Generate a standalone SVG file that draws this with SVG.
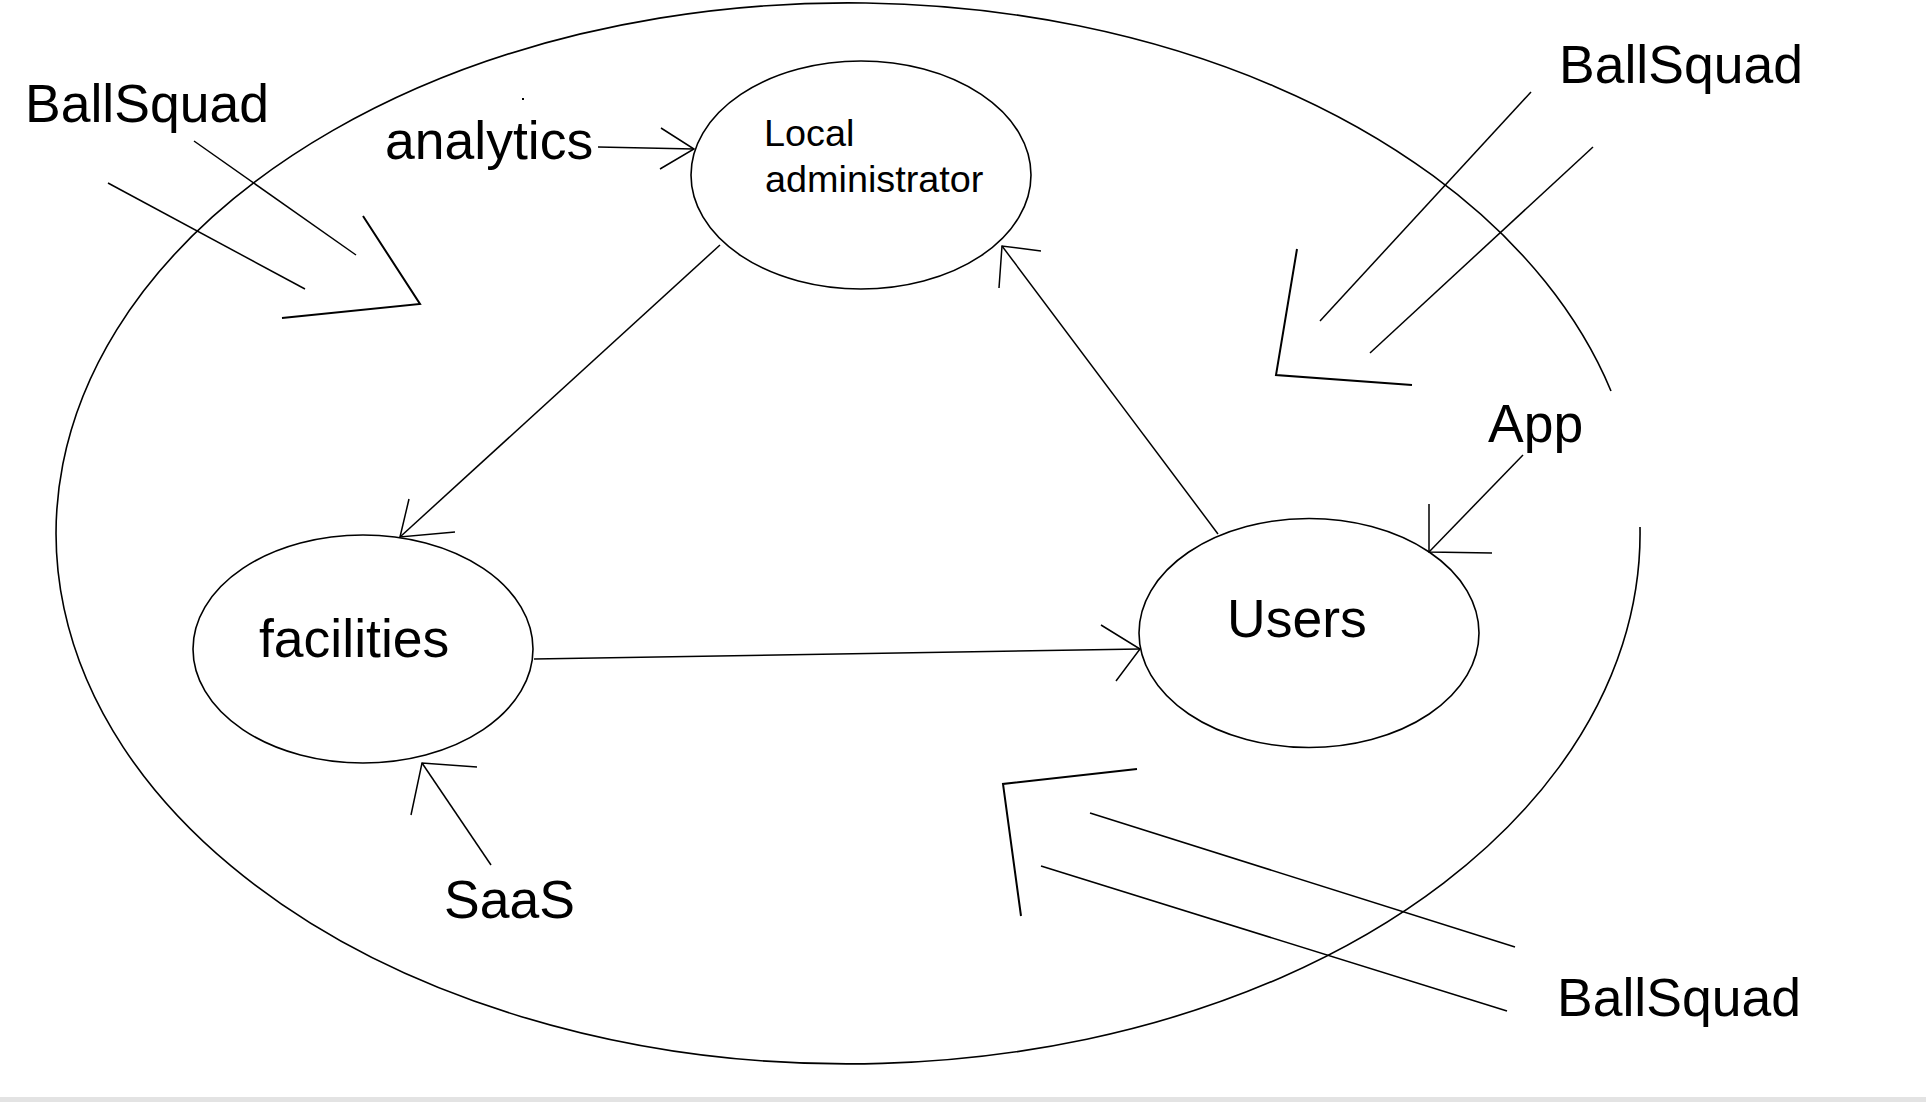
<svg xmlns="http://www.w3.org/2000/svg" width="1926" height="1102" viewBox="0 0 1926 1102">
<style>
.ln{fill:none;stroke:#000;stroke-width:1.5;stroke-linecap:butt;stroke-linejoin:miter}
.hd{fill:none;stroke:#000;stroke-width:2}
.nd{fill:none;stroke:#000;stroke-width:1.6}
.big{font-family:"Liberation Sans",Arial,sans-serif;font-size:53.5px;fill:#000}
.sm{font-family:"Liberation Sans",Arial,sans-serif;font-size:37.8px;fill:#000}
</style>
<rect x="0" y="0" width="1926" height="1102" fill="#fff"/>
<rect x="0" y="1097" width="1926" height="5" fill="#e3e3e3"/>
<g id="boundary">
<path class="nd" d="M 1640 527 A 792 530.5 0 1 1 1611 391"/>
<rect x="522" y="98" width="2" height="2" fill="#000"/>
</g>
<g id="node-admin">
<ellipse class="nd" cx="861" cy="175" rx="170" ry="114"/>
<text class="sm" x="764" y="146">Local</text>
<text class="sm" x="765" y="192">administrator</text>
</g>
<g id="node-facilities">
<ellipse class="nd" cx="363" cy="649" rx="170" ry="114"/>
<text class="big" x="259" y="657">facilities</text>
</g>
<g id="node-users">
<ellipse class="nd" cx="1309" cy="633" rx="170" ry="114.5"/>
<text class="big" x="1227" y="637">Users</text>
</g>
<g id="label-analytics"><text class="big" x="385" y="159">analytics</text></g>
<g id="label-app"><text class="big" x="1488" y="442">App</text></g>
<g id="label-saas"><text class="big" x="444" y="918">SaaS</text></g>
<g id="label-ballsquad-tl"><text class="big" x="25" y="122">BallSquad</text></g>
<g id="label-ballsquad-tr"><text class="big" x="1559" y="83">BallSquad</text></g>
<g id="label-ballsquad-br"><text class="big" x="1557" y="1016">BallSquad</text></g>
<g id="connectors">
<line class="ln" x1="598" y1="147" x2="694" y2="149"/>
<polyline class="ln" points="661,128 694,149 660,169"/>
<line class="ln" x1="720" y1="245" x2="400" y2="537"/>
<polyline class="ln" points="409,499 400,537 455,532"/>
<line class="ln" x1="534" y1="659" x2="1140" y2="649"/>
<polyline class="ln" points="1101,625 1140,649 1116,681"/>
<line class="ln" x1="1218" y1="534" x2="1002" y2="246"/>
<polyline class="ln" points="999,288 1002,246 1041,251"/>
<line class="ln" x1="1523" y1="455" x2="1429" y2="552"/>
<polyline class="ln" points="1429,504 1429,552 1492,553"/>
<line class="ln" x1="491" y1="865" x2="422" y2="763"/>
<polyline class="ln" points="411,815 422,763 477,767"/>
<line class="ln" x1="194" y1="141" x2="356" y2="255"/>
<line class="ln" x1="108" y1="183" x2="305" y2="289"/>
<polyline class="hd" points="363,216 420,304 282,318"/>
<line class="ln" x1="1531" y1="92" x2="1320" y2="321"/>
<line class="ln" x1="1593" y1="147" x2="1370" y2="353"/>
<polyline class="hd" points="1297,249 1276,375 1412,385"/>
<line class="ln" x1="1090" y1="813" x2="1515" y2="947"/>
<line class="ln" x1="1041" y1="866" x2="1507" y2="1011"/>
<polyline class="hd" points="1021,916 1003,784 1137,769"/>
</g>
</svg>
